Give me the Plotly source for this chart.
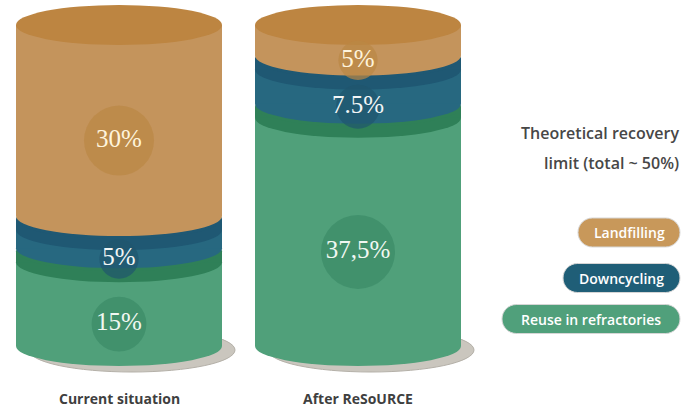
import numpy as np
import plotly.graph_objects as go

# ---------------- data ----------------
categories = ["Current situation", "After ReSoURCE"]
# stacked bottom -> top
series_names = ["Reuse in refractories", "Downcycling", "Landfilling"]
reuse = [15, 37.5]
downcycling = [5, 7.5]
landfilling = [30, 5]
reuse_labels = ["15%", "37,5%"]
downcycling_labels = ["5%", "7.5%"]
landfilling_labels = ["30%", "5%"]
legend_title_lines = ["Theoretical recovery", "limit (total ~ 50%)"]
legend_order = ["Landfilling", "Downcycling", "Reuse in refractories"]

series_values = [reuse, downcycling, landfilling]
series_labels = [reuse_labels, downcycling_labels, landfilling_labels]

# ---------------- style ----------------
W, H = 696, 412
face_col = {"Landfilling": "#BD8541", "Downcycling": "#1F5873", "Reuse in refractories": "#2F8058"}
body_col = {"Landfilling": "#C4945C", "Downcycling": "#276880", "Reuse in refractories": "#50A07A"}
circ_col = {"Landfilling": "#BB8745", "Downcycling": "#20566E", "Reuse in refractories": "#3B8A66"}
pill_col = {"Landfilling": "#C8985A", "Downcycling": "#1F5E77", "Reuse in refractories": "#50A07B"}
text_col = {"Landfilling": "#FFF4DC", "Downcycling": "#F2F6F6", "Reuse in refractories": "#F1F8F2"}

X0_PX, X_STEP_PX = 119, 239          # pixel of first category, spacing
Y_TOP_PX, Y_BASE_PX = 25, 346        # pixel of stack top / base
HALF_W_PX, RY_PX, GAP_PX, BAND_PX = 103, 20, 3, 11
SHADOW_DX_PX, SHADOW_DY_PX = 13, 4

totals = [sum(v[i] for v in series_values) for i in range(len(categories))]
ymax = max(totals)
ppu = (Y_BASE_PX - Y_TOP_PX) / ymax
x_range = [-X0_PX / X_STEP_PX, (W - X0_PX) / X_STEP_PX]
y_range = [-(H - Y_BASE_PX) / ppu, ymax + Y_TOP_PX / ppu]

hw = HALF_W_PX / X_STEP_PX
ry = RY_PX / ppu
gap = GAP_PX / ppu
band = BAND_PX / ppu

shapes = []


def ell(xc, yc, col, rx=hw, ryy=ry):
    shapes.append(dict(type="circle", xref="x", yref="y", layer="below",
                       x0=xc - rx, x1=xc + rx, y0=yc - ryy, y1=yc + ryy,
                       fillcolor=col, line=dict(width=0)))


def rect(xc, y0, y1, col):
    shapes.append(dict(type="rect", xref="x", yref="y", layer="below",
                       x0=xc - hw, x1=xc + hw, y0=y0, y1=y1,
                       fillcolor=col, line=dict(width=0)))


label_pos = {s: [] for s in series_names}
for i, cat in enumerate(categories):
    xc = i
    # shadow under the stack
    shapes.append(dict(type="circle", xref="x", yref="y", layer="below",
                       x0=xc - hw + SHADOW_DX_PX / X_STEP_PX, x1=xc + hw + SHADOW_DX_PX / X_STEP_PX,
                       y0=-ry * 1.1 - SHADOW_DY_PX / ppu, y1=ry * 1.1 - SHADOW_DY_PX / ppu,
                       fillcolor="#CAC6BE", line=dict(width=1, color="#B4B0A8")))
    base = 0.0
    n = len(series_names)
    for k, s in enumerate(series_names):
        v = series_values[k][i]
        b, t = base, base + v
        base = t
        is_bottom, is_top = k == 0, k == n - 1
        b_eff = b if is_bottom else b + gap / 2
        c1 = t if is_top else t - gap / 2
        bnd = 0 if is_top else band
        # light body
        ell(xc, b_eff, body_col[s])
        rect(xc, b_eff, c1 - bnd, body_col[s])
        # dark top band / face
        if bnd > 0:
            ell(xc, c1 - bnd, face_col[s])
            rect(xc, c1 - bnd, c1, face_col[s])
        ell(xc, c1, face_col[s])
        upper = (t - ry) if is_top else (c1 - bnd - ry)
        lower = b_eff - ry
        label_pos[s].append((upper + lower) / 2)

fig = go.Figure()
for k, s in enumerate(series_names):
    vals = series_values[k]
    sizes = [min(74, 18 + 9.5 * np.sqrt(v)) for v in vals]
    fig.add_trace(go.Scatter(
        x=list(range(len(categories))), y=label_pos[s], mode="markers+text",
        name=s, text=series_labels[k], textposition="middle center",
        marker=dict(size=sizes, color=circ_col[s], line=dict(width=0)),
        textfont=dict(family="Liberation Serif", size=25, color=text_col[s]),
        showlegend=False, hoverinfo="skip"))

annotations = []
for i, cat in enumerate(categories):
    annotations.append(dict(x=i, y=1 - 398 / H, xref="x", yref="paper", text=cat,
                            showarrow=False, xanchor="center", yanchor="middle",
                            font=dict(family="Open Sans", size=14, color="#3F3F3F", weight="bold")))

for j, line in enumerate(legend_title_lines):
    annotations.append(dict(x=681 / W, y=1 - (133 + 30 * j) / H, xref="paper", yref="paper",
                            text=line, showarrow=False, xanchor="right", yanchor="middle",
                            font=dict(family="Open Sans", size=16, color="#474747", weight=600)))

pill_left = {"Landfilling": 578, "Downcycling": 563, "Reuse in refractories": 502}
pill_yc = {"Landfilling": 232.5, "Downcycling": 278, "Reuse in refractories": 319}
PILL_RIGHT, PILL_H = 680, 29


def P(x, y):
    return f"{x / W:.5f},{1 - y / H:.5f}"


for s in legend_order:
    x0, x1, yc, r = pill_left[s], PILL_RIGHT, pill_yc[s], PILL_H / 2
    kk = 0.5523 * r
    path = (f"M{P(x0 + r, yc - r)} L{P(x1 - r, yc - r)} "
            f"C{P(x1 - r + kk, yc - r)} {P(x1, yc - kk)} {P(x1, yc)} "
            f"C{P(x1, yc + kk)} {P(x1 - r + kk, yc + r)} {P(x1 - r, yc + r)} "
            f"L{P(x0 + r, yc + r)} "
            f"C{P(x0 + r - kk, yc + r)} {P(x0, yc + kk)} {P(x0, yc)} "
            f"C{P(x0, yc - kk)} {P(x0 + r - kk, yc - r)} {P(x0 + r, yc - r)} Z")
    shapes.append(dict(type="path", xref="paper", yref="paper", path=path,
                       fillcolor=pill_col[s], line=dict(width=1, color="#D6D6D6"), layer="above"))
    annotations.append(dict(x=(x0 + x1) / 2 / W, y=1 - yc / H, xref="paper", yref="paper",
                            text=s, showarrow=False, xanchor="center", yanchor="middle",
                            font=dict(family="Open Sans", size=14, color="#FFFFFF", weight=600)))

fig.update_layout(
    width=W, height=H, margin=dict(l=0, r=0, t=0, b=0),
    paper_bgcolor="white", plot_bgcolor="white",
    xaxis=dict(range=x_range, visible=False, fixedrange=True),
    yaxis=dict(range=y_range, visible=False, fixedrange=True),
    shapes=shapes, annotations=annotations, showlegend=False,
)
fig.write_html("out.html")
